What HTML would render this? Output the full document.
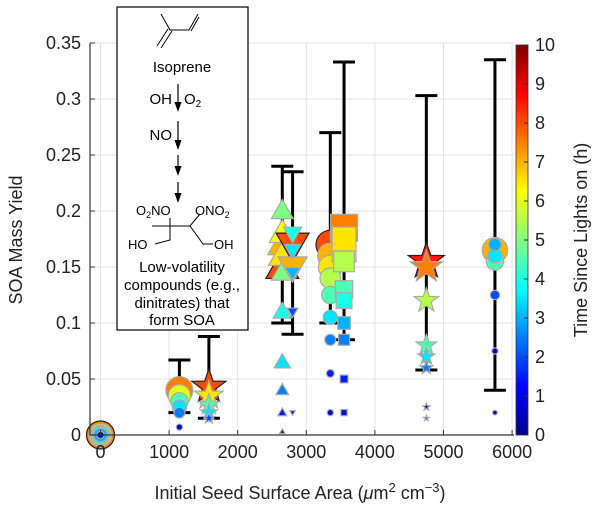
<!DOCTYPE html>
<html><head><meta charset="utf-8"><style>
body{margin:0;background:#fff}
svg{display:block;font-family:"Liberation Sans",Arial,sans-serif}
</style></head><body>
<svg id="c" width="600" height="509" viewBox="0 0 600 509">
<defs>
<linearGradient id="jet" x1="0" y1="1" x2="0" y2="0">
<stop offset="0" stop-color="#00008f"/><stop offset="0.125" stop-color="#0000ff"/><stop offset="0.375" stop-color="#00ffff"/><stop offset="0.625" stop-color="#ffff00"/><stop offset="0.875" stop-color="#ff0000"/><stop offset="1" stop-color="#800000"/>
</linearGradient>
</defs>
<g id="grid"></g><g id="err"></g><g id="marks"></g><g id="axes"></g>
</svg>
<script>
const xTicks=[0,1000,2000,3000,4000,5000,6000];
const yTicks=[0,0.05,0.1,0.15,0.2,0.25,0.3,0.35];
const yTickLabels=["0","0.05","0.1","0.15","0.2","0.25","0.3","0.35"];
const cbTicks=[0,1,2,3,4,5,6,7,8,9,10];
const groupX=[0,1150,1580,2650,2800,3350,3550,4750,5750];
const groupShape=["circle","circle","star","tri","tridown","circle","square","star","circle"];
const errLow=[null,0.02,0.015,0.1,0.09,0.1,0.085,0.058,0.04];
const errHigh=[null,0.067,0.088,0.24,0.235,0.27,0.333,0.303,0.335];
const yields=[
[0,0,0,0,0,0],
[0.007,0.02,0.025,0.03,0.035,0.04],
[0.015,0.02,0.027,0.035,0.043],
[0.003,0.02,0.04,0.065,0.11,0.145,0.16,0.17,0.18,0.2,0.15],
[0.02,0.11,0.145,0.15,0.165,0.18,0.17],
[0.02,0.055,0.085,0.105,0.125,0.14,0.15,0.16,0.17],
[0.02,0.05,0.085,0.1,0.12,0.13,0.155,0.165,0.175,0.185],
[0.015,0.025,0.06,0.07,0.08,0.12,0.15,0.155],
[0.02,0.075,0.125,0.155,0.16,0.165,0.17]];
const times=[
[1,3,4,5,6,7.5],
[1,2.5,3.5,4.5,6,7.5],
[2,3.5,4.5,6.5,8],
[0.5,1.5,2.5,3.5,4,5,6.5,7,6.2,5,8],
[0.5,2,3,7,3.5,4,8],
[1,1.5,2.5,3.5,4.5,5.5,6.5,7,8],
[1,1.5,2.5,3,4,4.5,5.5,6.5,6.5,7.5],
[0.5,1,2.5,3.5,4.5,5.5,7.5,8.5],
[0.5,1,2,4.5,3.5,7,3]];
const X=v=>100.5+v*0.0686, Y=v=>435-v*1120;
const NS="http://www.w3.org/2000/svg";
function mk(t,a,p){const e=document.createElementNS(NS,t);for(const k in a)e.setAttribute(k,a[k]);p.appendChild(e);return e;}
function jet(t){const v=t/10;const f=x=>Math.max(0,Math.min(1,x));
const r=f(Math.min(4*v-1.5,-4*v+4.5)),g=f(Math.min(4*v-0.5,-4*v+3.5)),b=f(Math.min(4*v+0.5,-4*v+2.5));
return `rgb(${Math.round(r*255)},${Math.round(g*255)},${Math.round(b*255)})`;}
const grid=document.getElementById('grid'),err=document.getElementById('err'),marks=document.getElementById('marks'),axes=document.getElementById('axes');
xTicks.forEach(v=>{const l=mk('line',{x1:X(v),x2:X(v),y1:43,y2:435,stroke:'#e3e3e3'},grid);
});
yTicks.forEach(v=>{const l=mk('line',{x1:90,x2:514,y1:Y(v),y2:Y(v),stroke:'#e3e3e3'},grid);
});
groupX.forEach((gx,i)=>{if(errLow[i]==null)return;const x=X(gx);
const g=mk('g',{stroke:'#000','stroke-width':3},err);

mk('line',{x1:x,x2:x,y1:Y(errLow[i]),y2:Y(errHigh[i])},g);
mk('line',{x1:x-11,x2:x+11,y1:Y(errLow[i]),y2:Y(errLow[i])},g);
mk('line',{x1:x-11,x2:x+11,y1:Y(errHigh[i]),y2:Y(errHigh[i])},g);});
function shape(s,x,y,r,fill,stroke){let e;
if(s==='circle')e=mk('circle',{cx:x,cy:y,r:r},marks);
else if(s==='square')e=mk('rect',{x:x-r,y:y-r,width:2*r,height:2*r},marks);
else if(s==='tri')e=mk('polygon',{points:`${x},${y-r*1.2} ${x-r*1.15},${y+r*0.8} ${x+r*1.15},${y+r*0.8}`},marks);
else if(s==='tridown')e=mk('polygon',{points:`${x},${y+r*1.2} ${x-r*1.15},${y-r*0.8} ${x+r*1.15},${y-r*0.8}`},marks);
else{let p=[];for(let k=0;k<10;k++){const a=-Math.PI/2+k*Math.PI/5,rr=k%2?r*0.5:r*1.25;p.push((x+rr*Math.cos(a)).toFixed(1)+','+(y+rr*Math.sin(a)).toFixed(1));}
e=mk('polygon',{points:p.join(' ')},marks);}
e.setAttribute('fill',fill);e.setAttribute('stroke',stroke);e.setAttribute('stroke-width',1.2);return e;}
groupX.forEach((gx,i)=>{const ord=yields[i].map((v,k)=>k).sort((a,b)=>times[i][b]-times[i][a]);
ord.forEach(k=>{const t=times[i][k];let r=1.5+t*1.6;if(i===0)r=2+t*1.6;
const e=shape(groupShape[i],X(gx),Y(yields[i][k]),r,jet(t),(t>7.8||(i===0&&k===5))?'#222':'#aaa');

});});
let a=mk('path',{d:'M90,43 V435 H514',fill:'none',stroke:'#333','stroke-width':1.2},axes);

xTicks.forEach(v=>{mk('line',{x1:X(v),x2:X(v),y1:435,y2:430,stroke:'#333'},axes);
const t=mk('text',{x:X(v),y:458,'text-anchor':'middle','font-size':18,fill:'#222'},axes);t.textContent=v;
});
yTicks.forEach((v,k)=>{mk('line',{x1:90,x2:95,y1:Y(v),y2:Y(v),stroke:'#333'},axes);
const t=mk('text',{x:81,y:Y(v)+6,'text-anchor':'end','font-size':18,fill:'#222'},axes);t.textContent=yTickLabels[k];
});
const cb=mk('rect',{x:516,y:45,width:12,height:390,fill:'url(#jet)',stroke:'#333','stroke-width':0.8},axes);

cbTicks.forEach(v=>{const y=435-v*39;mk('line',{x1:524,x2:528,y1:y,y2:y,stroke:'#333'},axes);
const t=mk('text',{x:535,y:y+6,'font-size':18,fill:'#222'},axes);t.textContent=v;
});
</script>
<svg style="position:absolute;left:0;top:0" width="600" height="509">
<text x="300" y="499" text-anchor="middle" font-size="18" fill="#222">Initial Seed Surface Area (<tspan font-style="italic">μ</tspan>m<tspan dy="-7" font-size="13">2</tspan><tspan dy="7"> cm</tspan><tspan dy="-7" font-size="13">−3</tspan><tspan dy="7">)</tspan></text>
<text transform="translate(22,240) rotate(-90)" text-anchor="middle" font-size="18" fill="#222">SOA Mass Yield</text>
<text transform="translate(587,240) rotate(-90)" text-anchor="middle" font-size="18" fill="#222">Time Since Lights on (h)</text>
<g font-size="14" fill="#000">
<rect x="117" y="7" width="131" height="323" fill="#fff" stroke="#000" stroke-width="1.2"/>
<path d="M161,14 L170,30 L189,30 L198,14 M172,31 L161,48 M168,29 L157,46 M191,31 L199,17" fill="none" stroke="#000" stroke-width="1"/>
<text x="182" y="72" text-anchor="middle" font-size="15">Isoprene</text>
<g stroke="#000" stroke-width="1.2">
<line x1="178" y1="84" x2="178" y2="104"/><line x1="178" y1="121" x2="178" y2="142"/>
<line x1="178" y1="155" x2="178" y2="168"/><line x1="178" y1="182" x2="178" y2="195"/>
</g>
<polygon points="174.5,102 181.5,102 178,112"/><polygon points="174.5,140 181.5,140 178,150"/>
<polygon points="174.5,166 181.5,166 178,176"/><polygon points="174.5,193 181.5,193 178,203"/>
<text x="172" y="104" text-anchor="end" font-size="15">OH</text><text x="184" y="104" font-size="15">O<tspan font-size="10" dy="3">2</tspan></text>
<text x="172" y="140" text-anchor="end" font-size="15">NO</text>
<text x="136" y="215" font-size="13">O<tspan font-size="9" dy="3">2</tspan><tspan dy="-3">NO</tspan></text>
<text x="195" y="215" font-size="13">ONO<tspan font-size="9" dy="3">2</tspan></text>
<path d="M152,226 L170,226 L190,226 L200,214 M170,226 L170,240 L155,244 M190,226 L203,244 L213,244 M170,218 L170,226" fill="none" stroke="#000"/>
<text x="128" y="249" font-size="13">HO</text><text x="214" y="249" font-size="13">OH</text>
<text x="182" y="272" text-anchor="middle" font-size="15">Low-volatility</text>
<text x="182" y="290" text-anchor="middle" font-size="15">compounds (e.g.,</text>
<text x="182" y="308" text-anchor="middle" font-size="15">dinitrates) that</text>
<text x="182" y="325" text-anchor="middle" font-size="15">form SOA</text>
</g>
</svg>
</body></html>
